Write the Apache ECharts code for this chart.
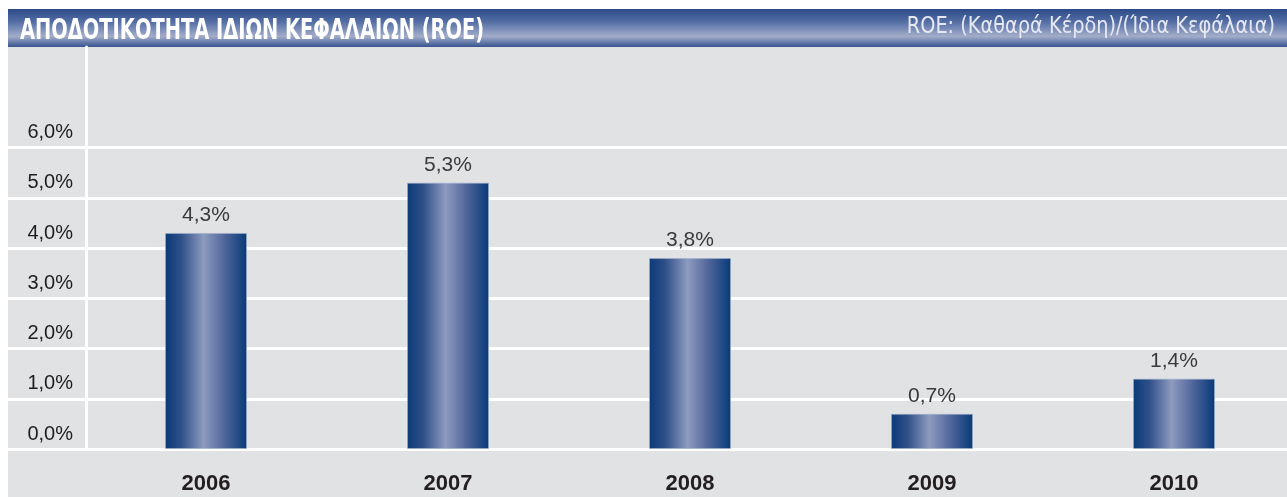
<!DOCTYPE html>
<html><head><meta charset="utf-8">
<script src="https://cdn.jsdelivr.net/npm/echarts@6/dist/echarts.min.js"></script>
<style>html,body{margin:0;padding:0;background:#fff}#c{width:1287px;height:497px}</style>
</head><body><div id="c"></div>
<script>
const categories = ['2006', '2007', '2008', '2009', '2010'];
const roeValues = [4.3, 5.3, 3.8, 0.7, 1.4];
const yMax = 8;          // axis extends above the last labelled tick
const yLabelMax = 6;     // last labelled tick
const titleText = 'ΑΠΟΔΟΤΙΚΟΤΗΤΑ ΙΔΙΩΝ ΚΕΦΑΛΑΙΩΝ (ROE)';
const subtitleText = 'ROE: (Καθαρά Κέρδη)/(Ίδια Κεφάλαια)';

const COND = '"DejaVu Sans Condensed", "DejaVu Sans", sans-serif';
const SANS = '"Liberation Sans", Arial, sans-serif';
const pct = v => v.toFixed(1).replace('.', ',') + '%';
const lineColors = [];
for (let i = 0; i <= yMax; i++) lineColors.push(i <= yLabelMax ? '#ffffff' : 'rgba(0,0,0,0)');

const chart = echarts.init(document.getElementById('c'), null, {renderer: 'canvas'});
chart.setOption({
  backgroundColor: '#ffffff',
  animation: false,
  graphic: [
    {type: 'rect', z: -10, left: 8, top: 47, shape: {width: 1279, height: 450}, style: {fill: '#e1e2e4'}},
    {type: 'rect', z: -10, left: 8, top: 9, shape: {width: 1279, height: 38},
      style: {fill: new echarts.graphic.LinearGradient(0, 0, 0, 1, [
        {offset: 0, color: '#2c4a88'}, {offset: 0.35, color: '#5670a6'},
        {offset: 0.72, color: '#a3adca'}, {offset: 1, color: '#38538f'}])}},
    {type: 'text', z: 10, x: 20, y: 32, scaleY: 1.3,
      style: {text: titleText, fill: '#ffffff', font: 'bold 21.6px ' + COND,
        align: 'left', verticalAlign: 'middle',
        shadowColor: 'rgba(30,50,100,0.6)', shadowBlur: 2}},
    {type: 'text', z: 10, x: 1275, y: 27, scaleY: 1.05,
      style: {text: subtitleText, fill: '#e6e9f2', font: 'normal 21.5px ' + COND,
        align: 'right', verticalAlign: 'middle'}}
  ],
  grid: [
    // gridlines + y axis
    {left: 86, right: 0, top: 47, bottom: 48, containLabel: false},
    // gridlines left of the axis
    {left: 8, width: 78, top: 47, bottom: 48, containLabel: false},
    // bars (tick-centred categories)
    {left: 206, right: 113, top: 47, bottom: 48, containLabel: false}
  ],
  xAxis: [
    {type: 'category', gridIndex: 0, data: [''], show: false},
    {type: 'category', gridIndex: 1, data: [''], show: false},
    {type: 'category', gridIndex: 2, data: categories, boundaryGap: false,
      axisLine: {show: false}, axisTick: {show: false}, splitLine: {show: false},
      axisLabel: {margin: 24, color: '#231f20', fontFamily: SANS, fontWeight: 'bold', fontSize: 22}}
  ],
  yAxis: [
    {type: 'value', gridIndex: 0, min: 0, max: yMax, interval: 1,
      axisLine: {show: true, lineStyle: {color: '#ffffff', width: 3}}, axisTick: {show: false},
      splitLine: {show: true, lineStyle: {color: lineColors, width: 3}},
      axisLabel: {margin: 13, color: '#1e1e1e', fontFamily: SANS, fontSize: 20,
        verticalAlign: 'bottom', padding: [0, 0, 5, 0],
        formatter: v => (v <= yLabelMax ? pct(v) : '')}},
    {type: 'value', gridIndex: 1, min: 0, max: yMax, interval: 1,
      axisLine: {show: false}, axisTick: {show: false}, axisLabel: {show: false},
      splitLine: {show: true, lineStyle: {color: lineColors, width: 3}}},
    {type: 'value', gridIndex: 2, min: 0, max: yMax, interval: 1, show: false,
      splitLine: {show: false}}
  ],
  series: [{
    type: 'bar', xAxisIndex: 2, yAxisIndex: 2, data: roeValues, barWidth: 82, clip: false,
    itemStyle: {
      color: new echarts.graphic.LinearGradient(0, 0, 1, 0, [
        {offset: 0, color: '#0a3a78'}, {offset: 0.2, color: '#2f5089'},
        {offset: 0.47, color: '#8e9bbf'}, {offset: 0.75, color: '#4a6198'},
        {offset: 1, color: '#063a78'}]),
      borderColor: 'rgba(160,175,205,0.6)', borderWidth: 1
    },
    label: {show: true, position: 'top', distance: 7, color: '#3a3a3a',
      fontFamily: SANS, fontSize: 21, formatter: p => pct(p.value)}
  }]
});
</script></body></html>
